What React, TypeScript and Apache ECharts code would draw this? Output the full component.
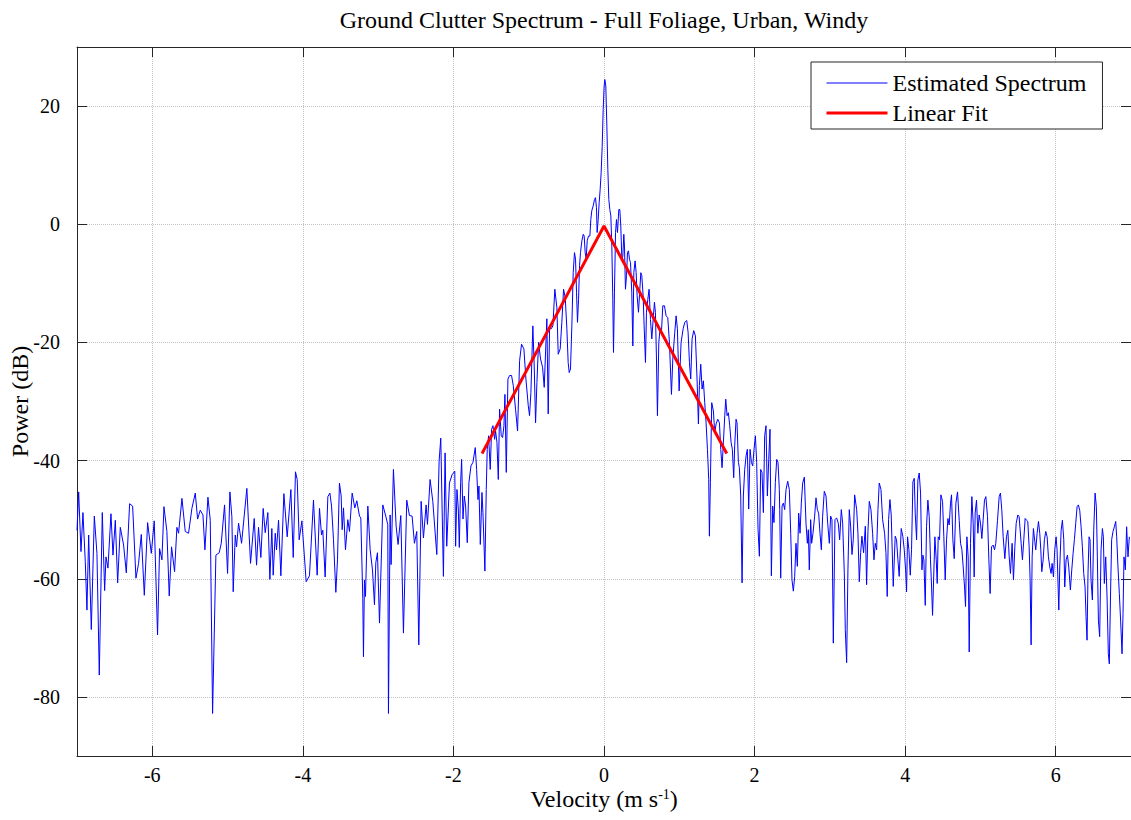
import React, { useEffect, useRef } from "react";
import * as echarts from "echarts";

const FONT = "'Liberation Serif', 'Times New Roman', serif";

const TITLE = "Ground Clutter Spectrum - Full Foliage, Urban, Windy";
const X_TICKS = [-6, -4, -2, 0, 2, 4, 6];
const Y_TICKS = [-80, -60, -40, -20, 0, 20];
const SERIES_NAMES = ["Estimated Spectrum", "Linear Fit"];

// [velocity (m/s), power (dB)]
const floorLeftA = [
  [-7.0, -51.8], [-6.978, -45.3], [-6.947, -55.4], [-6.921, -48.8], [-6.89, -57.1], [-6.868, -65.3], [-6.845, -52.6], [-6.81, -68.6],
  [-6.77, -49.4], [-6.735, -55.7], [-6.704, -76.3], [-6.664, -48.8], [-6.633, -62.0], [-6.615, -56.3], [-6.589, -58.2], [-6.549, -49.0],
  [-6.522, -56.0], [-6.491, -50.1], [-6.46, -60.7], [-6.425, -51.3], [-6.381, -54.3], [-6.345, -59.0], [-6.301, -47.3], [-6.261, -47.7],
  [-6.217, -59.9], [-6.182, -57.4], [-6.146, -52.5], [-6.106, -62.8], [-6.062, -50.5], [-6.013, -55.7], [-5.974, -50.2], [-5.93, -69.5],
  [-5.903, -54.9], [-5.872, -56.8], [-5.845, -47.8], [-5.806, -52.0], [-5.775, -62.9], [-5.744, -54.6], [-5.704, -58.8], [-5.673, -51.3],
  [-5.651, -52.3], [-5.606, -46.4], [-5.562, -52.0], [-5.518, -52.3], [-5.474, -48.1], [-5.429, -45.5], [-5.398, -49.9], [-5.363, -48.4],
  [-5.327, -49.2], [-5.301, -55.1],
];

const floorLeftB = [
  [-5.261, -46.2], [-5.23, -50.1], [-5.199, -82.8], [-5.155, -56.0], [-5.111, -55.6], [-5.084, -54.0], [-5.04, -47.5], [-5.0, -59.1],
  [-4.969, -45.3], [-4.943, -49.5], [-4.925, -62.2], [-4.898, -52.6], [-4.881, -54.6], [-4.854, -50.6], [-4.814, -54.0], [-4.744, -44.7],
  [-4.695, -57.4], [-4.646, -49.8], [-4.615, -57.7], [-4.589, -51.3], [-4.558, -56.4], [-4.527, -48.1], [-4.5, -52.2], [-4.465, -48.8],
  [-4.438, -60.1], [-4.412, -51.5], [-4.394, -59.4], [-4.367, -52.3], [-4.35, -55.1], [-4.323, -50.1], [-4.292, -59.5], [-4.252, -45.6],
  [-4.208, -52.9], [-4.159, -44.9], [-4.128, -56.4], [-4.098, -41.9], [-4.075, -43.2], [-4.049, -53.4], [-4.013, -50.2], [-3.956, -60.5],
  [-3.912, -59.5], [-3.859, -46.7], [-3.81, -59.4], [-3.779, -48.1], [-3.752, -52.6], [-3.735, -51.8], [-3.704, -59.7], [-3.668, -46.1],
  [-3.641, -45.5],
];

const floorLeftC = [
  [-3.619, -47.7], [-3.593, -53.4], [-3.562, -62.3], [-3.54, -56.8], [-3.514, -43.8], [-3.491, -46.0], [-3.478, -51.7], [-3.46, -48.0],
  [-3.434, -55.1], [-3.403, -50.0], [-3.381, -52.0], [-3.345, -45.5], [-3.31, -48.0], [-3.283, -46.8], [-3.248, -49.4], [-3.23, -49.7],
  [-3.204, -63.3], [-3.195, -73.2], [-3.182, -60.2], [-3.168, -63.0], [-3.137, -47.7], [-3.106, -55.1], [-3.075, -58.5], [-3.049, -64.4],
  [-3.031, -57.3], [-3.009, -55.6], [-2.982, -67.5], [-2.938, -47.5], [-2.903, -49.2], [-2.872, -50.8], [-2.863, -82.8], [-2.841, -49.2],
  [-2.828, -57.6], [-2.797, -41.5], [-2.761, -51.1], [-2.735, -54.2], [-2.699, -49.3], [-2.664, -69.2], [-2.62, -46.7], [-2.584, -49.3],
  [-2.549, -49.4], [-2.518, -54.0], [-2.487, -52.0], [-2.46, -71.2], [-2.429, -46.9], [-2.398, -53.1], [-2.363, -47.5], [-2.345, -50.8],
  [-2.31, -43.2], [-2.274, -46.9], [-2.221, -55.9], [-2.19, -40.1], [-2.168, -36.2], [-2.133, -59.6], [-2.111, -38.7], [-2.089, -54.5],
  [-2.053, -43.8], [-2.018, -42.4], [-1.982, -41.8],
];

const risingSide = [
  [-1.971, -54.5], [-1.953, -44.9], [-1.935, -48.2], [-1.922, -54.7], [-1.904, -43.7], [-1.891, -39.8], [-1.873, -49.9], [-1.856, -46.0],
  [-1.838, -47.7], [-1.816, -53.9], [-1.794, -43.7], [-1.767, -40.9], [-1.741, -40.3], [-1.71, -37.8], [-1.692, -41.5], [-1.674, -46.6],
  [-1.661, -44.3], [-1.643, -54.2], [-1.621, -45.4], [-1.608, -48.8], [-1.582, -58.7], [-1.564, -44.9], [-1.551, -38.1], [-1.533, -35.8],
  [-1.511, -41.5], [-1.493, -34.7], [-1.475, -34.1], [-1.453, -36.4], [-1.44, -35.0], [-1.422, -36.9], [-1.404, -43.2], [-1.387, -31.3],
  [-1.365, -35.8], [-1.347, -36.1], [-1.329, -34.1], [-1.316, -28.8], [-1.298, -42.0], [-1.276, -26.2], [-1.254, -25.6], [-1.228, -25.6],
  [-1.205, -27.3], [-1.175, -31.3], [-1.148, -35.0], [-1.121, -23.1], [-1.095, -20.3], [-1.064, -21.1], [-1.037, -26.2], [-1.006, -30.7],
  [-0.989, -32.4], [-0.971, -28.5], [-0.945, -17.2], [-0.927, -24.0], [-0.909, -33.6], [-0.891, -26.8], [-0.869, -20.0], [-0.843, -22.8],
  [-0.816, -24.2], [-0.794, -27.6], [-0.759, -16.0], [-0.741, -32.1], [-0.723, -17.7], [-0.701, -17.7], [-0.679, -17.2], [-0.653, -11.0],
  [-0.626, -14.1], [-0.608, -22.0], [-0.582, -21.1], [-0.56, -16.6], [-0.537, -11.0], [-0.515, -12.4], [-0.493, -17.7], [-0.476, -23.4],
];

const peakRegion = [
  [-0.462, -25.1], [-0.445, -24.5], [-0.427, -17.2], [-0.409, -8.2], [-0.392, -4.8], [-0.378, -5.9], [-0.365, -11.5], [-0.352, -16.6],
  [-0.338, -12.7], [-0.325, -7.0], [-0.312, -4.8], [-0.294, -2.8], [-0.276, -1.7], [-0.263, -2.0], [-0.25, -4.8], [-0.237, -5.9],
  [-0.223, -2.8], [-0.206, -2.0], [-0.188, -2.0], [-0.175, 0.8], [-0.162, 2.3], [-0.144, 3.1], [-0.126, 4.2], [-0.113, 4.5],
  [-0.1, 2.8], [-0.091, -1.4], [-0.077, 0.8], [-0.064, 3.7], [-0.051, 5.9], [-0.038, 8.7], [-0.024, 13.2], [-0.011, 19.4],
  [0.002, 23.4], [0.011, 24.5], [0.024, 23.4], [0.038, 16.6], [0.051, 9.3], [0.064, 4.2], [0.077, 2.5], [0.091, 1.4],
  [0.104, -3.7], [0.117, -12.7], [0.126, -21.7], [0.139, -11.5], [0.153, -1.4], [0.166, 0.8], [0.179, -1.4], [0.197, 2.5],
  [0.21, 2.5], [0.223, -0.3], [0.237, -5.9], [0.25, -5.4], [0.263, -1.7], [0.272, -3.7], [0.285, -11.0], [0.299, -8.7],
  [0.312, -4.8], [0.325, -4.5], [0.338, -5.9], [0.352, -6.5], [0.369, -11.5], [0.383, -20.6], [0.396, -8.2], [0.413, -6.2],
  [0.427, -8.2], [0.44, -12.1], [0.458, -14.9], [0.476, -11.0], [0.489, -8.2], [0.502, -8.7], [0.52, -12.1], [0.533, -17.2],
  [0.551, -23.4], [0.564, -14.9], [0.582, -12.7], [0.599, -11.0], [0.617, -16.1], [0.635, -19.4], [0.653, -16.1], [0.67, -13.2],
  [0.683, -14.9], [0.697, -22.8], [0.71, -32.4], [0.728, -20.0], [0.745, -17.7], [0.763, -18.3], [0.781, -13.8], [0.803, -13.8],
];

const fallingSide = [
  [0.825, -15.5], [0.847, -15.8], [0.869, -20.0], [0.896, -28.8], [0.914, -22.8], [0.94, -18.3], [0.958, -15.5], [0.975, -17.7],
  [0.998, -28.2], [1.024, -20.0], [1.051, -17.7], [1.073, -16.6], [1.099, -16.3], [1.117, -18.3], [1.135, -23.4], [1.152, -26.2],
  [1.17, -19.4], [1.192, -18.0], [1.214, -18.9], [1.236, -26.2], [1.254, -33.8], [1.267, -27.3], [1.285, -23.7], [1.303, -27.9],
  [1.32, -26.5], [1.338, -30.2], [1.356, -33.6], [1.374, -38.1], [1.391, -43.2], [1.4, -52.8], [1.413, -43.7], [1.431, -30.2],
  [1.453, -31.6], [1.471, -35.3], [1.489, -33.8], [1.511, -33.0], [1.533, -33.6], [1.551, -38.1], [1.568, -41.2], [1.586, -36.9],
  [1.604, -32.4], [1.617, -29.6], [1.635, -32.4], [1.652, -31.9], [1.67, -34.1], [1.688, -36.9], [1.705, -38.1], [1.723, -42.9],
  [1.736, -37.5], [1.754, -33.0], [1.767, -33.6], [1.785, -40.3], [1.798, -41.2], [1.816, -46.0], [1.834, -60.7], [1.851, -46.0],
  [1.869, -41.5], [1.887, -39.2], [1.904, -38.1], [1.922, -48.2], [1.94, -38.1], [1.958, -40.3], [1.975, -40.9], [1.993, -38.1],
  [2.011, -35.8], [2.028, -40.3], [2.046, -51.6], [2.064, -56.2], [2.081, -41.5], [2.099, -42.0], [2.117, -48.8], [2.134, -35.8],
  [2.152, -34.1], [2.17, -46.0], [2.188, -39.8], [2.205, -34.7], [2.223, -59.5], [2.241, -47.7], [2.258, -50.5], [2.276, -43.7],
  [2.294, -39.8], [2.311, -40.3], [2.329, -44.9],
];

const floorRightA = [
  [2.334, -48.3], [2.347, -59.9], [2.365, -47.7], [2.382, -47.2], [2.4, -48.3], [2.418, -44.9], [2.44, -43.5], [2.462, -44.9],
  [2.48, -52.3], [2.497, -60.2], [2.515, -62.1], [2.533, -59.6], [2.55, -54.0], [2.568, -57.9], [2.586, -48.9], [2.604, -52.3],
  [2.621, -47.2], [2.639, -43.8], [2.661, -42.8], [2.683, -50.6], [2.701, -54.0], [2.714, -51.7], [2.727, -58.5], [2.745, -50.0],
  [2.758, -54.0], [2.776, -52.3], [2.798, -49.4], [2.816, -46.3], [2.834, -48.3], [2.851, -48.9], [2.869, -52.3], [2.887, -55.1],
  [2.904, -49.4], [2.926, -45.2], [2.949, -46.0], [2.971, -50.6], [2.993, -54.0], [3.01, -49.4], [3.028, -50.0], [3.046, -70.9],
  [3.068, -50.0], [3.09, -49.7], [3.112, -50.6], [3.13, -53.4], [3.152, -48.3], [3.17, -50.6], [3.192, -59.0], [3.205, -68.6],
  [3.223, -74.2], [3.24, -58.5], [3.258, -48.3], [3.276, -51.1], [3.294, -55.9], [3.311, -53.4], [3.329, -45.8], [3.356, -48.3],
  [3.373, -52.3], [3.391, -60.5], [3.409, -55.6], [3.426, -52.8], [3.448, -55.6], [3.471, -51.1], [3.488, -61.0], [3.506, -52.0],
  [3.524, -46.9], [3.546, -48.3], [3.568, -52.3], [3.586, -56.8], [3.603, -54.0], [3.621, -55.1], [3.639, -48.3], [3.656, -43.8],
  [3.679, -44.9], [3.701, -50.0], [3.727, -52.3], [3.745, -55.6], [3.762, -63.0], [3.78, -50.0], [3.798, -46.6], [3.815, -49.2],
  [3.842, -61.3], [3.868, -52.8], [3.886, -53.4], [3.904, -56.8], [3.921, -59.6],
];

const floorRightB = [
  [3.948, -51.5], [3.97, -52.9], [3.988, -55.1], [4.006, -58.5], [4.019, -62.2], [4.032, -52.9], [4.05, -55.1], [4.068, -59.4],
  [4.085, -55.1], [4.103, -43.6], [4.121, -43.0], [4.134, -48.9], [4.152, -53.4], [4.169, -43.3], [4.187, -42.1], [4.205, -45.5],
  [4.223, -58.5], [4.236, -56.0], [4.249, -56.8], [4.267, -64.5], [4.284, -51.2], [4.302, -46.7], [4.32, -49.5], [4.337, -56.8],
  [4.351, -61.4], [4.364, -66.2], [4.382, -58.5], [4.395, -52.9], [4.413, -56.8], [4.426, -60.8], [4.439, -52.9], [4.457, -53.4],
  [4.475, -45.8], [4.497, -46.9], [4.514, -52.9], [4.532, -60.2], [4.55, -53.4], [4.568, -49.8], [4.585, -50.9], [4.603, -47.2],
  [4.616, -45.8], [4.634, -53.4], [4.652, -56.6], [4.674, -47.2], [4.696, -45.3], [4.718, -50.1], [4.736, -54.0], [4.754, -55.1],
  [4.771, -58.0], [4.789, -61.4], [4.802, -64.7], [4.82, -52.9], [4.837, -56.3], [4.851, -72.4], [4.868, -54.0], [4.886, -46.1],
  [4.904, -50.6], [4.917, -59.7], [4.93, -48.9], [4.948, -46.7], [4.966, -52.3], [4.983, -49.2], [5.001, -50.6], [5.019, -53.2],
  [5.036, -50.1], [5.054, -46.7], [5.072, -46.1], [5.094, -49.5], [5.112, -56.8], [5.129, -62.5], [5.147, -54.6], [5.169, -54.3],
  [5.187, -55.1], [5.204, -54.0], [5.227, -50.1], [5.249, -46.1], [5.266, -45.5], [5.284, -48.4], [5.302, -52.9], [5.324, -56.6],
  [5.346, -52.9], [5.364, -51.8], [5.382, -56.3], [5.399, -59.1], [5.421, -54.0], [5.439, -60.2], [5.457, -54.6], [5.475, -50.6],
  [5.497, -49.2], [5.514, -49.5],
];

const floorRightC = [
  [5.541, -54.0], [5.558, -56.8], [5.576, -53.4], [5.594, -49.8], [5.612, -50.1], [5.629, -50.3], [5.647, -54.6], [5.66, -60.2],
  [5.673, -71.2], [5.687, -56.3], [5.704, -51.5], [5.722, -53.7], [5.735, -55.1], [5.753, -52.3], [5.771, -50.3], [5.788, -52.3],
  [5.802, -55.1], [5.815, -58.8], [5.833, -56.8], [5.85, -53.4], [5.868, -52.0], [5.886, -52.9], [5.903, -56.3], [5.921, -58.0],
  [5.939, -59.1], [5.952, -57.4], [5.97, -59.7], [5.987, -55.1], [6.005, -52.9], [6.018, -55.1], [6.032, -61.4], [6.041, -65.3],
  [6.054, -58.0], [6.072, -51.8], [6.089, -50.1], [6.107, -53.4], [6.12, -61.4], [6.138, -56.8], [6.156, -56.0], [6.173, -58.0],
  [6.195, -61.9], [6.213, -58.5], [6.231, -55.7], [6.248, -53.4], [6.266, -50.6], [6.284, -47.8], [6.301, -47.5], [6.319, -48.4],
  [6.337, -51.2], [6.354, -54.6], [6.372, -59.1], [6.39, -61.4], [6.403, -66.4], [6.416, -70.4], [6.429, -59.1], [6.443, -52.9],
  [6.456, -53.4], [6.469, -60.2], [6.487, -63.6], [6.505, -51.8], [6.523, -45.5], [6.54, -47.8], [6.553, -56.3], [6.567, -67.0],
  [6.584, -69.8], [6.602, -55.1], [6.62, -51.5], [6.633, -52.9], [6.646, -60.8], [6.664, -56.3], [6.682, -63.1], [6.699, -72.7],
  [6.712, -74.4], [6.73, -61.4], [6.743, -53.4], [6.761, -52.0], [6.779, -51.2], [6.797, -50.3], [6.81, -52.9], [6.827, -58.0],
  [6.845, -62.5], [6.863, -67.3], [6.881, -72.7], [6.894, -65.9], [6.907, -56.3], [6.925, -58.5], [6.942, -51.2], [6.96, -56.3],
  [6.978, -52.9],
];

const linearFit = [
  [-1.62, -38.8],
  [0.0, -0.3],
  [1.63, -38.8],
];

const spectrum = [
  ...floorLeftA, ...floorLeftB, ...floorLeftC, ...risingSide, ...peakRegion,
  ...fallingSide, ...floorRightA, ...floorRightB, ...floorRightC,
];

const AXIS_COLOR = "#262626";
const GRID_COLOR = "#c4c4c4";

function makeOption() {
  const axisLine = { show: true, onZero: false, lineStyle: { color: AXIS_COLOR, width: 1 } };
  return {
    animation: false,
    backgroundColor: "#ffffff",
    textStyle: { fontFamily: FONT },
    title: {
      text: TITLE,
      left: 604,
      top: 8,
      padding: 0,
      textAlign: "center",
      textStyle: { fontFamily: FONT, fontSize: 24, fontWeight: "normal", color: "#000" },
    },
    legend: {
      data: [
        { name: SERIES_NAMES[0], lineStyle: { width: 1, color: "#0000ff" } },
        { name: SERIES_NAMES[1], lineStyle: { width: 3, color: "#ff0000" } },
      ],
      orient: "vertical",
      left: 811,
      top: 62,
      itemWidth: 61,
      itemHeight: 14,
      itemGap: 6,
      padding: [9, 16, 4, 14],
      backgroundColor: "#ffffff",
      borderColor: AXIS_COLOR,
      borderWidth: 1,
      borderRadius: 0,
      itemStyle: { opacity: 0 },
      textStyle: { fontFamily: FONT, fontSize: 24, color: "#000" },
    },
    grid: { left: 77, top: 47, width: 1054, height: 709, containLabel: false, outerBoundsMode: "none" },
    xAxis: [
      {
        type: "value",
        min: -7,
        max: 7,
        position: "bottom",
        name: "Velocity (m s{sup|-1})",
        nameLocation: "middle",
        nameGap: 31,
        nameMoveOverlap: false,
        nameTextStyle: {
          fontFamily: FONT,
          fontSize: 24,
          color: "#000",
          rich: { sup: { fontFamily: FONT, fontSize: 14, color: "#000", verticalAlign: "top" } },
        },
        axisLine,
        axisTick: { show: true, inside: true, length: 10, customValues: X_TICKS, lineStyle: { color: AXIS_COLOR } },
        axisLabel: { customValues: X_TICKS, margin: 9, fontFamily: FONT, fontSize: 20, color: "#000" },
        splitLine: { show: true, lineStyle: { type: "dotted", color: GRID_COLOR, width: 1 } },
      },
      {
        type: "value",
        min: -7,
        max: 7,
        position: "top",
        axisLine,
        axisTick: { show: true, inside: true, length: 10, customValues: X_TICKS, lineStyle: { color: AXIS_COLOR } },
        axisLabel: { show: false },
        splitLine: { show: false },
      },
    ],
    yAxis: [
      {
        type: "value",
        min: -90,
        max: 30,
        position: "left",
        name: "Power (dB)",
        nameLocation: "middle",
        nameGap: 45,
        nameMoveOverlap: false,
        nameTextStyle: { fontFamily: FONT, fontSize: 24, color: "#000" },
        axisLine,
        axisTick: { show: true, inside: true, length: 10, customValues: Y_TICKS, lineStyle: { color: AXIS_COLOR } },
        axisLabel: { customValues: Y_TICKS, margin: 17, fontFamily: FONT, fontSize: 20, color: "#000" },
        splitLine: { show: true, lineStyle: { type: "dotted", color: GRID_COLOR, width: 1 } },
      },
      {
        type: "value",
        min: -90,
        max: 30,
        position: "right",
        axisLine,
        axisTick: { show: true, inside: true, length: 10, customValues: Y_TICKS, lineStyle: { color: AXIS_COLOR } },
        axisLabel: { show: false },
        splitLine: { show: false },
      },
    ],
    series: [
      {
        name: SERIES_NAMES[0],
        type: "line",
        xAxisIndex: 0,
        yAxisIndex: 0,
        data: spectrum,
        symbol: "none",
        showSymbol: false,
        lineStyle: { color: "#0000ff", width: 1 },
        itemStyle: { color: "#0000ff" },
        z: 2,
      },
      {
        name: SERIES_NAMES[1],
        type: "line",
        xAxisIndex: 0,
        yAxisIndex: 0,
        data: linearFit,
        symbol: "none",
        showSymbol: false,
        lineStyle: { color: "#ff0000", width: 3 },
        itemStyle: { color: "#ff0000" },
        z: 3,
      },
    ],
  };
}

export default function App() {
  const ref = useRef<HTMLDivElement | null>(null);
  useEffect(() => {
    if (!ref.current) return;
    const chart = echarts.init(ref.current, null, { renderer: "svg" });
    chart.setOption(makeOption() as any);
    return () => chart.dispose();
  }, []);
  return (
    <div
      ref={ref}
      style={{ position: "fixed", left: 0, top: 0, width: 1131, height: 820, background: "#fff" }}
    />
  );
}
